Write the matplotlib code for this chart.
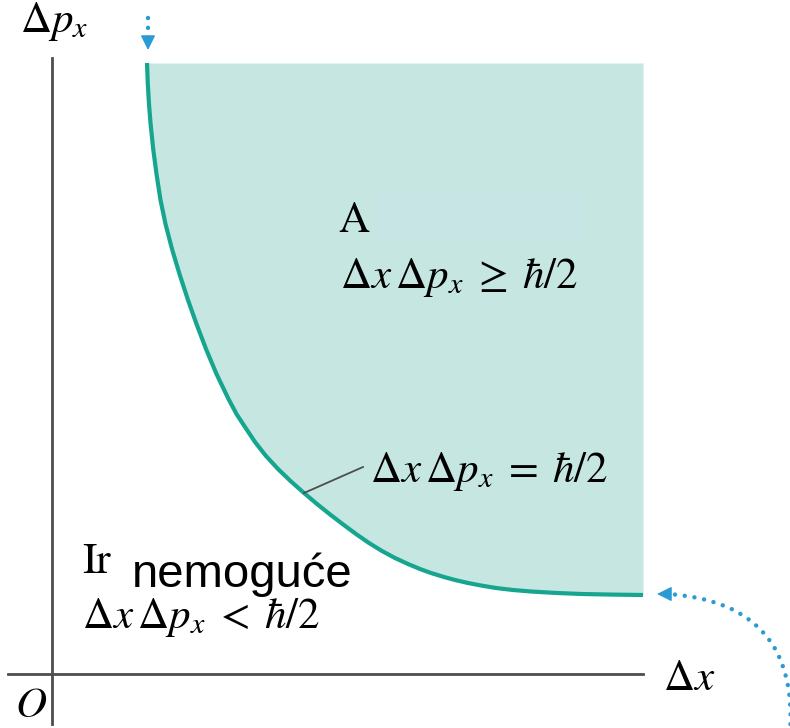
import matplotlib.pyplot as plt
from matplotlib.patches import Rectangle

plt.rcParams['mathtext.fontset'] = 'stix'

# boundary curve dx * dp = hbar/2, read point by point (origin at O)
dx_curve = [95, 95.8, 97, 98.6, 101.2, 104.5, 108.5, 113.5, 120, 127.5, 136,
            144.5, 154, 164.5, 176.5, 184.5, 193, 203, 214, 226, 238.5, 252,
            265, 277.5, 290.5, 304, 317, 330, 343, 356, 368, 379, 392, 403,
            416, 429, 444, 461, 479, 505, 530, 560, 591]
dp_curve = [611, 590, 570, 550, 525, 500, 474, 450, 425, 400, 374,
            350, 325, 300, 275, 260, 247, 232, 218, 205, 193, 181,
            170, 160, 150, 140, 131, 123, 116, 110, 105, 101, 97, 94,
            91, 88.5, 86, 84, 82.5, 81, 80, 79.4, 79]
dp_top = 611

label_allowed = r'$\Delta x\,\Delta p_x \;\geq\; \hbar/2$'
label_boundary = r'$\Delta x\,\Delta p_x \;=\; \hbar/2$'
label_forbidden = r'$\Delta x\,\Delta p_x \;<\; \hbar/2$'

fill_col = '#c5e6e1'
curve_col = '#16a58f'
axis_col = '#4d4d4d'
arrow_col = '#2b9bd3'

fig = plt.figure(figsize=(7.9, 7.28), dpi=100)
ax = fig.add_axes([0, 0, 1, 1])
ax.set_xlim(-52, 738)
ax.set_ylim(-54, 674)
ax.axis('off')

# allowed region above the curve
ax.fill_between(dx_curve, dp_curve, dp_top, color=fill_col, lw=0)
ax.plot(dx_curve, dp_curve, color=curve_col, lw=3, solid_capstyle='butt',
        solid_joinstyle='round')

# axes
ax.plot([-44, 591], [0, 0], color=axis_col, lw=2)
ax.plot([0, 0], [-50, 616], color=axis_col, lw=2)

# patch over the original region word
ax.add_patch(Rectangle((322, 434), 211, 45, color='#c8e5e6', lw=0))

serif = 'STIXGeneral'
fs = 31
ax.text(-32, 642, r'$\Delta p_x$', fontsize=fs, ha='left', va='baseline')
ax.text(611, -16, r'$\Delta x$', fontsize=fs, ha='left', va='baseline')
ax.text(-37, -43, r'$O$', fontsize=fs, ha='left', va='baseline')

ax.text(286, 442, 'A', family=serif, fontsize=fs, ha='left', va='baseline')
ax.text(288, 386, label_allowed, fontsize=fs, ha='left', va='baseline')
ax.text(318, 192, label_boundary, fontsize=fs, ha='left', va='baseline')
ax.plot([dx_curve[21], 311], [dp_curve[21], 207], color=axis_col, lw=1.3)

ax.text(30, 101, 'Ir', family=serif, fontsize=fs, ha='left', va='baseline')
ax.text(80, 87, 'nemoguće', family='Liberation Sans', fontsize=34, ha='left', va='baseline')
ax.text(30, 46, label_forbidden, fontsize=fs, ha='left', va='baseline')

# dotted pointer arrows: dotted shaft plus a solid head
dots = (0, (0.01, 2.2))
head = dict(arrowstyle='-|>,head_length=0.9,head_width=0.45', color=arrow_col,
            lw=1, shrinkA=0, shrinkB=0)

ax.annotate('', xy=(96, 636), xytext=(96, 656),
            arrowprops=dict(arrowstyle='-', color=arrow_col, lw=3.2, linestyle=dots,
                            capstyle='round', shrinkA=0, shrinkB=0),
            annotation_clip=False)
ax.annotate('', xy=(96, 624), xytext=(96, 638), arrowprops=head, annotation_clip=False)

ax.annotate('', xy=(617, 80), xytext=(738, -60),
            arrowprops=dict(arrowstyle='-', color=arrow_col, lw=3.2, linestyle=dots,
                            capstyle='round', shrinkA=0, shrinkB=0,
                            connectionstyle='arc3,rad=0.5'),
            annotation_clip=False)
ax.annotate('', xy=(605, 80), xytext=(619, 80), arrowprops=head, annotation_clip=False)

fig.savefig('out.png', dpi=100)
